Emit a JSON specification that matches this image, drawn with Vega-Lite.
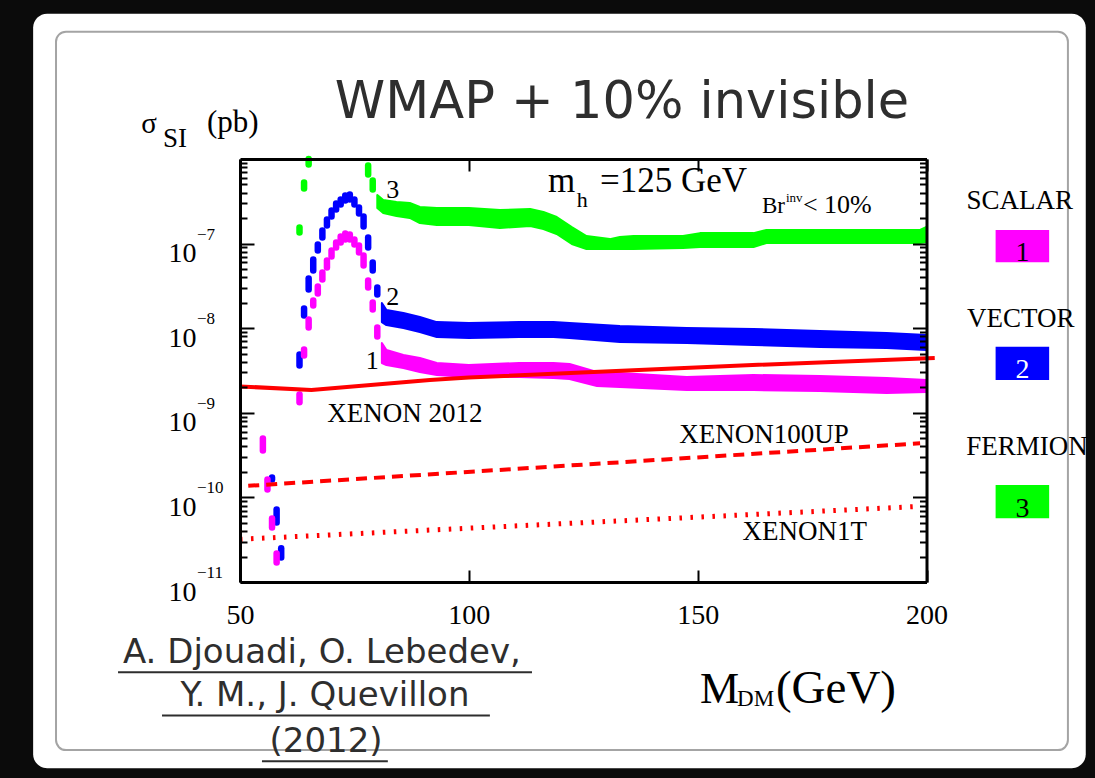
{
  "$schema": "https://vega.github.io/schema/vega-lite/v6.json",
  "width": 686.5,
  "height": 423,
  "autosize": {"type": "none"},
  "padding": {"left": 240, "top": 159, "right": 168.5, "bottom": 196},
  "background": "#0b0b0b",
  "config": {"view": {"stroke": null}, "text": {"font": "Liberation Serif", "color": "black"}},
  "datasets": {
    "dashes": [
      {"model": "fermion", "m": 63, "hi": 1.55e-7, "lo": 1.35e-7},
      {"model": "fermion", "m": 64, "hi": 5.28e-7, "lo": 4.48e-7},
      {"model": "fermion", "m": 65, "hi": 1e-6, "lo": 8.6e-7},
      {"model": "fermion", "m": 78, "hi": 8.38e-7, "lo": 6.55e-7},
      {"model": "fermion", "m": 79, "hi": 5.57e-7, "lo": 4.35e-7},
      {"model": "vector", "m": 57, "hi": 1.72e-10, "lo": 1.63e-10},
      {"model": "vector", "m": 58, "hi": 7.21e-11, "lo": 5.05e-11},
      {"model": "vector", "m": 59, "hi": 2.5e-11, "lo": 1.95e-11},
      {"model": "vector", "m": 63, "hi": 4.9e-9, "lo": 3.63e-9},
      {"model": "vector", "m": 64, "hi": 1.71e-8, "lo": 1.41e-8},
      {"model": "vector", "m": 65, "hi": 3.87e-8, "lo": 2.87e-8},
      {"model": "vector", "m": 66, "hi": 6.5e-8, "lo": 4.8e-8},
      {"model": "vector", "m": 67, "hi": 9.77e-8, "lo": 8.28e-8},
      {"model": "vector", "m": 68, "hi": 1.43e-7, "lo": 1.18e-7},
      {"model": "vector", "m": 69, "hi": 1.93e-7, "lo": 1.64e-7},
      {"model": "vector", "m": 70, "hi": 2.47e-7, "lo": 2.09e-7},
      {"model": "vector", "m": 71, "hi": 2.98e-7, "lo": 2.53e-7},
      {"model": "vector", "m": 72, "hi": 3.33e-7, "lo": 2.9e-7},
      {"model": "vector", "m": 73, "hi": 3.7e-7, "lo": 3.23e-7},
      {"model": "vector", "m": 74, "hi": 3.8e-7, "lo": 3.32e-7},
      {"model": "vector", "m": 75, "hi": 3.33e-7, "lo": 2.9e-7},
      {"model": "vector", "m": 76, "hi": 2.67e-7, "lo": 2.27e-7},
      {"model": "vector", "m": 77, "hi": 2.09e-7, "lo": 1.59e-7},
      {"model": "vector", "m": 78, "hi": 1.18e-7, "lo": 8.99e-8},
      {"model": "vector", "m": 79, "hi": 5.98e-8, "lo": 4.8e-8},
      {"model": "vector", "m": 80, "hi": 3.03e-8, "lo": 2.5e-8},
      {"model": "scalar", "m": 55, "hi": 4.97e-10, "lo": 3.58e-10},
      {"model": "scalar", "m": 56, "hi": 1.63e-10, "lo": 1.24e-10},
      {"model": "scalar", "m": 57, "hi": 5.64e-11, "lo": 4.41e-11},
      {"model": "scalar", "m": 58, "hi": 2.17e-11, "lo": 1.7e-11},
      {"model": "scalar", "m": 63, "hi": 1.64e-9, "lo": 1.33e-9},
      {"model": "scalar", "m": 64, "hi": 5.61e-9, "lo": 4.76e-9},
      {"model": "scalar", "m": 65, "hi": 1.27e-8, "lo": 1.02e-8},
      {"model": "scalar", "m": 66, "hi": 2.13e-8, "lo": 1.85e-8},
      {"model": "scalar", "m": 67, "hi": 3.11e-8, "lo": 2.57e-8},
      {"model": "scalar", "m": 68, "hi": 4.56e-8, "lo": 3.77e-8},
      {"model": "scalar", "m": 69, "hi": 6.32e-8, "lo": 5.22e-8},
      {"model": "scalar", "m": 70, "hi": 8.29e-8, "lo": 7.04e-8},
      {"model": "scalar", "m": 71, "hi": 1.03e-7, "lo": 8.99e-8},
      {"model": "scalar", "m": 72, "hi": 1.21e-7, "lo": 1.03e-7},
      {"model": "scalar", "m": 73, "hi": 1.32e-7, "lo": 1.12e-7},
      {"model": "scalar", "m": 74, "hi": 1.28e-7, "lo": 1.12e-7},
      {"model": "scalar", "m": 75, "hi": 1.12e-7, "lo": 9.76e-8},
      {"model": "scalar", "m": 76, "hi": 9.5e-8, "lo": 7.84e-8},
      {"model": "scalar", "m": 77, "hi": 7.23e-8, "lo": 5.51e-8},
      {"model": "scalar", "m": 78, "hi": 3.66e-8, "lo": 3.03e-8},
      {"model": "scalar", "m": 79, "hi": 2.01e-8, "lo": 1.66e-8},
      {"model": "scalar", "m": 80, "hi": 1.02e-8, "lo": 7.97e-9}
    ],
    "bands": [
      {"model": "fermion", "m": 80, "hi": 3.75e-7, "lo": 2.64e-7},
      {"model": "fermion", "m": 81.3, "hi": 3.27e-7, "lo": 2.3e-7},
      {"model": "fermion", "m": 84.2, "hi": 3.1e-7, "lo": 2.12e-7},
      {"model": "fermion", "m": 87.1, "hi": 3.02e-7, "lo": 2.01e-7},
      {"model": "fermion", "m": 89.3, "hi": 2.71e-7, "lo": 1.75e-7},
      {"model": "fermion", "m": 93, "hi": 2.64e-7, "lo": 1.66e-7},
      {"model": "fermion", "m": 100, "hi": 2.64e-7, "lo": 1.66e-7},
      {"model": "fermion", "m": 106.8, "hi": 2.49e-7, "lo": 1.53e-7},
      {"model": "fermion", "m": 113.4, "hi": 2.56e-7, "lo": 1.61e-7},
      {"model": "fermion", "m": 116.3, "hi": 2.36e-7, "lo": 1.49e-7},
      {"model": "fermion", "m": 119.2, "hi": 2.06e-7, "lo": 1.3e-7},
      {"model": "fermion", "m": 122.5, "hi": 1.57e-7, "lo": 9.89e-8},
      {"model": "fermion", "m": 125.7, "hi": 1.23e-7, "lo": 8.63e-8},
      {"model": "fermion", "m": 130.8, "hi": 1.13e-7, "lo": 8.63e-8},
      {"model": "fermion", "m": 133, "hi": 1.197e-7, "lo": 8.63e-8},
      {"model": "fermion", "m": 136, "hi": 1.23e-7, "lo": 8.63e-8},
      {"model": "fermion", "m": 146.8, "hi": 1.23e-7, "lo": 8.87e-8},
      {"model": "fermion", "m": 150.5, "hi": 1.33e-7, "lo": 9.12e-8},
      {"model": "fermion", "m": 162.2, "hi": 1.33e-7, "lo": 9.12e-8},
      {"model": "fermion", "m": 165, "hi": 1.45e-7, "lo": 1.016e-7},
      {"model": "fermion", "m": 179.6, "hi": 1.45e-7, "lo": 1.016e-7},
      {"model": "fermion", "m": 198.6, "hi": 1.45e-7, "lo": 1.016e-7},
      {"model": "fermion", "m": 200, "hi": 1.57e-7, "lo": 1.045e-7},
      {"model": "vector", "m": 81, "hi": 1.99e-8, "lo": 1.18e-8},
      {"model": "vector", "m": 82, "hi": 1.64e-8, "lo": 1.09e-8},
      {"model": "vector", "m": 85.7, "hi": 1.51e-8, "lo": 1.005e-8},
      {"model": "vector", "m": 89.3, "hi": 1.355e-8, "lo": 9.02e-9},
      {"model": "vector", "m": 93, "hi": 1.18e-8, "lo": 7.87e-9},
      {"model": "vector", "m": 100, "hi": 1.15e-8, "lo": 7.66e-9},
      {"model": "vector", "m": 111, "hi": 1.18e-8, "lo": 7.87e-9},
      {"model": "vector", "m": 118.5, "hi": 1.18e-8, "lo": 7.87e-9},
      {"model": "vector", "m": 122, "hi": 1.15e-8, "lo": 7.66e-9},
      {"model": "vector", "m": 133, "hi": 1.06e-8, "lo": 6.87e-9},
      {"model": "vector", "m": 147.6, "hi": 1.005e-8, "lo": 6.68e-9},
      {"model": "vector", "m": 162.2, "hi": 9.79e-9, "lo": 6.32e-9},
      {"model": "vector", "m": 176.7, "hi": 9.27e-9, "lo": 6.0e-9},
      {"model": "vector", "m": 191.3, "hi": 8.77e-9, "lo": 5.83e-9},
      {"model": "vector", "m": 200, "hi": 8.32e-9, "lo": 5.52e-9},
      {"model": "scalar", "m": 81, "hi": 6.68e-9, "lo": 3.88e-9},
      {"model": "scalar", "m": 82, "hi": 5.52e-9, "lo": 3.67e-9},
      {"model": "scalar", "m": 85.7, "hi": 4.82e-9, "lo": 3.39e-9},
      {"model": "scalar", "m": 89.3, "hi": 4.45e-9, "lo": 3.03e-9},
      {"model": "scalar", "m": 93, "hi": 3.88e-9, "lo": 2.8e-9},
      {"model": "scalar", "m": 100, "hi": 3.67e-9, "lo": 2.65e-9},
      {"model": "scalar", "m": 111, "hi": 3.88e-9, "lo": 2.65e-9},
      {"model": "scalar", "m": 118.5, "hi": 3.88e-9, "lo": 2.58e-9},
      {"model": "scalar", "m": 122, "hi": 3.78e-9, "lo": 2.51e-9},
      {"model": "scalar", "m": 128, "hi": 3.03e-9, "lo": 2.07e-9},
      {"model": "scalar", "m": 133, "hi": 2.95e-9, "lo": 2.02e-9},
      {"model": "scalar", "m": 147.6, "hi": 2.65e-9, "lo": 1.86e-9},
      {"model": "scalar", "m": 162.2, "hi": 2.8e-9, "lo": 1.86e-9},
      {"model": "scalar", "m": 176.7, "hi": 2.72e-9, "lo": 1.81e-9},
      {"model": "scalar", "m": 191.3, "hi": 2.58e-9, "lo": 1.71e-9},
      {"model": "scalar", "m": 200, "hi": 2.44e-9, "lo": 1.76e-9}
    ],
    "limits": [
      {"experiment": "XENON 2012", "m": 50, "sigma": 2.05e-9},
      {"experiment": "XENON 2012", "m": 65.6, "sigma": 1.86e-9},
      {"experiment": "XENON 2012", "m": 91.5, "sigma": 2.44e-9},
      {"experiment": "XENON 2012", "m": 100, "sigma": 2.61e-9},
      {"experiment": "XENON 2012", "m": 162, "sigma": 3.67e-9},
      {"experiment": "XENON 2012", "m": 201.8, "sigma": 4.45e-9},
      {"experiment": "XENON100UP", "m": 51.8, "sigma": 1.37e-10},
      {"experiment": "XENON100UP", "m": 198.6, "sigma": 4.36e-10},
      {"experiment": "XENON1T", "m": 50, "sigma": 3.2e-11},
      {"experiment": "XENON1T", "m": 197.1, "sigma": 7.76e-11}
    ],
    "exponents": [
      {"v": 1e-11, "e": "−11"},
      {"v": 1e-10, "e": "−10"},
      {"v": 1e-9, "e": "−9"},
      {"v": 1e-8, "e": "−8"},
      {"v": 1e-7, "e": "−7"}
    ],
    "one": [{}]
  },
  "layer": [
    {
      "data": {"name": "one"},
      "mark": {"type": "rect", "color": "white", "cornerRadius": 14},
      "encoding": {
        "x": {"datum": 4.8, "scale": {"domain": [50, 200], "nice": false, "zero": false}, "axis": null},
        "x2": {"datum": 234.8},
        "y": {"datum": 5.2e-5, "scale": {"type": "log", "domain": [1e-11, 1e-6], "nice": false}, "axis": null},
        "y2": {"datum": 6.3e-14}
      }
    },
    {
      "data": {"name": "one"},
      "mark": {"type": "rect", "filled": false, "stroke": "#a4a4a4", "strokeWidth": 2, "cornerRadius": 10},
      "encoding": {
        "x": {"datum": 9.8, "scale": {"domain": [50, 200], "nice": false, "zero": false}, "axis": null},
        "x2": {"datum": 230.9},
        "y": {"datum": 3.2e-5, "scale": {"type": "log", "domain": [1e-11, 1e-6], "nice": false}, "axis": null},
        "y2": {"datum": 1.03e-13}
      }
    },
    {
      "data": {"name": "bands"},
      "mark": {"type": "area", "strokeWidth": 2, "strokeJoin": "round"},
      "encoding": {
        "x": {"field": "m", "type": "quantitative", "scale": {"domain": [50, 200], "nice": false, "zero": false}, "axis": null},
        "y": {"field": "hi", "type": "quantitative", "stack": null, "scale": {"type": "log", "domain": [1e-11, 1e-6], "nice": false}, "axis": null},
        "y2": {"field": "lo"},
        "color": {"field": "model", "type": "nominal", "scale": {"domain": ["scalar", "vector", "fermion"], "range": ["#ff00ff", "#0000ff", "#00ff00"]}, "legend": null},
        "stroke": {"field": "model", "type": "nominal", "scale": {"domain": ["scalar", "vector", "fermion"], "range": ["#ff00ff", "#0000ff", "#00ff00"]}, "legend": null}
      }
    },
    {
      "data": {"name": "dashes"},
      "mark": {"type": "rule", "strokeWidth": 6.5, "strokeCap": "round"},
      "encoding": {
        "x": {"field": "m", "type": "quantitative", "scale": {"domain": [50, 200], "nice": false, "zero": false}, "axis": null},
        "y": {"field": "hi", "type": "quantitative", "scale": {"type": "log", "domain": [1e-11, 1e-6], "nice": false}, "axis": null},
        "y2": {"field": "lo"},
        "color": {"field": "model", "type": "nominal", "scale": {"domain": ["scalar", "vector", "fermion"], "range": ["#ff00ff", "#0000ff", "#00ff00"]}, "legend": null}
      }
    },
    {
      "data": {"name": "limits"},
      "transform": [{"filter": "datum.experiment === 'XENON 2012'"}],
      "mark": {"type": "line", "color": "#ff0000", "strokeWidth": 4},
      "encoding": {
        "x": {"field": "m", "type": "quantitative", "scale": {"domain": [50, 200], "nice": false, "zero": false},
          "axis": {"orient": "bottom", "values": [50, 100, 150, 200], "title": null, "grid": false, "zindex": 2,
            "domainColor": "black", "domainWidth": 3, "tickColor": "black", "tickWidth": 2, "tickSize": -12,
            "labelFont": "Liberation Serif", "labelFontSize": 28, "labelColor": "black", "labelPadding": 31,
            "labelFlush": false, "labelOverlap": false}},
        "y": {"field": "sigma", "type": "quantitative", "scale": {"type": "log", "domain": [1e-11, 1e-6], "nice": false},
          "axis": {"orient": "left", "title": null, "grid": false, "zindex": 2,
            "values": [1e-11, 2e-11, 3e-11, 4e-11, 5e-11, 6e-11, 7e-11, 8e-11, 9e-11,
                       1e-10, 2e-10, 3e-10, 4e-10, 5e-10, 6e-10, 7e-10, 8e-10, 9e-10,
                       1e-9, 2e-9, 3e-9, 4e-9, 5e-9, 6e-9, 7e-9, 8e-9, 9e-9,
                       1e-8, 2e-8, 3e-8, 4e-8, 5e-8, 6e-8, 7e-8, 8e-8, 9e-8,
                       1e-7, 2e-7, 3e-7, 4e-7, 5e-7, 6e-7, 7e-7, 8e-7, 9e-7],
            "labelExpr": "abs(log(datum.value)/LN10 - round(log(datum.value)/LN10)) < 0.01 ? '10' : ''",
            "domainColor": "black", "domainWidth": 3, "tickColor": "black", "tickWidth": 2, "tickSize": -14,
            "tickDash": {"condition": {"test": "abs(log(datum.value)/LN10 - round(log(datum.value)/LN10)) > 0.01", "value": [7, 40]}, "value": [40, 0]},
            "labelFont": "Liberation Serif", "labelFontSize": 28, "labelColor": "black", "labelPadding": 58,
            "labelBaseline": "alphabetic", "labelOffset": 18, "labelOverlap": false, "labelFlush": false}}
      }
    },
    {
      "data": {"name": "limits"},
      "transform": [{"filter": "datum.experiment === 'XENON100UP'"}],
      "mark": {"type": "line", "color": "#ff0000", "strokeWidth": 4, "strokeDash": [11, 7]},
      "encoding": {
        "x": {"field": "m", "type": "quantitative", "scale": {"domain": [50, 200], "nice": false, "zero": false}, "axis": null},
        "y": {"field": "sigma", "type": "quantitative", "scale": {"type": "log", "domain": [1e-11, 1e-6], "nice": false}, "axis": null}
      }
    },
    {
      "data": {"name": "limits"},
      "transform": [{"filter": "datum.experiment === 'XENON1T'"}],
      "mark": {"type": "line", "color": "#ff0000", "strokeWidth": 5, "strokeDash": [2.5, 8.5]},
      "encoding": {
        "x": {"field": "m", "type": "quantitative", "scale": {"domain": [50, 200], "nice": false, "zero": false},
          "axis": {"orient": "top", "values": [50, 100, 150, 200], "title": null, "grid": false, "zindex": 2, "labels": false,
            "domainColor": "black", "domainWidth": 3, "tickColor": "black", "tickWidth": 2, "tickSize": -12}},
        "y": {"field": "sigma", "type": "quantitative", "scale": {"type": "log", "domain": [1e-11, 1e-6], "nice": false},
          "axis": {"orient": "right", "title": null, "grid": false, "zindex": 2, "labels": false,
            "values": [1e-11, 2e-11, 3e-11, 4e-11, 5e-11, 6e-11, 7e-11, 8e-11, 9e-11,
                       1e-10, 2e-10, 3e-10, 4e-10, 5e-10, 6e-10, 7e-10, 8e-10, 9e-10,
                       1e-9, 2e-9, 3e-9, 4e-9, 5e-9, 6e-9, 7e-9, 8e-9, 9e-9,
                       1e-8, 2e-8, 3e-8, 4e-8, 5e-8, 6e-8, 7e-8, 8e-8, 9e-8,
                       1e-7, 2e-7, 3e-7, 4e-7, 5e-7, 6e-7, 7e-7, 8e-7, 9e-7],
            "domainColor": "black", "domainWidth": 3, "tickColor": "black", "tickWidth": 2, "tickSize": -14,
            "tickDash": {"condition": {"test": "abs(log(datum.value)/LN10 - round(log(datum.value)/LN10)) > 0.01", "value": [7, 40]}, "value": [40, 0]}}}
      }
    },
    {
      "data": {"name": "exponents"},
      "mark": {"type": "text", "fontSize": 17, "align": "left", "baseline": "alphabetic", "dy": -4},
      "encoding": {
        "x": {"datum": 40.6, "scale": {"domain": [50, 200], "nice": false, "zero": false}, "axis": null},
        "y": {"field": "v", "type": "quantitative", "scale": {"type": "log", "domain": [1e-11, 1e-6], "nice": false}, "axis": null},
        "text": {"field": "e"}
      }
    },
    {
      "data": {"name": "one"},
      "mark": {"type": "text", "text": "σ", "fontSize": 29, "align": "left", "baseline": "alphabetic"},
      "encoding": {
        "x": {"datum": 28.4, "scale": {"domain": [50, 200], "nice": false, "zero": false}, "axis": null},
        "y": {"datum": 2.03e-6, "scale": {"type": "log", "domain": [1e-11, 1e-6], "nice": false}, "axis": null}
      }
    },
    {
      "data": {"name": "one"},
      "mark": {"type": "text", "text": "SI", "fontSize": 27, "align": "left", "baseline": "alphabetic"},
      "encoding": {
        "x": {"datum": 33.18, "scale": {"domain": [50, 200], "nice": false, "zero": false}, "axis": null},
        "y": {"datum": 1.4e-6, "scale": {"type": "log", "domain": [1e-11, 1e-6], "nice": false}, "axis": null}
      }
    },
    {
      "data": {"name": "one"},
      "mark": {"type": "text", "text": "(pb)", "fontSize": 31, "align": "left", "baseline": "alphabetic"},
      "encoding": {
        "x": {"datum": 42.79, "scale": {"domain": [50, 200], "nice": false, "zero": false}, "axis": null},
        "y": {"datum": 2.1e-6, "scale": {"type": "log", "domain": [1e-11, 1e-6], "nice": false}, "axis": null}
      }
    },
    {
      "data": {"name": "one"},
      "mark": {"type": "text", "text": "M", "fontSize": 44, "align": "left", "baseline": "alphabetic"},
      "encoding": {
        "x": {"datum": 150.5, "scale": {"domain": [50, 200], "nice": false, "zero": false}, "axis": null},
        "y": {"datum": 3.72e-13, "scale": {"type": "log", "domain": [1e-11, 1e-6], "nice": false}, "axis": null}
      }
    },
    {
      "data": {"name": "one"},
      "mark": {"type": "text", "text": "DM", "fontSize": 23, "align": "left", "baseline": "alphabetic"},
      "encoding": {
        "x": {"datum": 158.6, "scale": {"domain": [50, 200], "nice": false, "zero": false}, "axis": null},
        "y": {"datum": 3.42e-13, "scale": {"type": "log", "domain": [1e-11, 1e-6], "nice": false}, "axis": null}
      }
    },
    {
      "data": {"name": "one"},
      "mark": {"type": "text", "text": "(GeV)", "fontSize": 47, "align": "left", "baseline": "alphabetic"},
      "encoding": {
        "x": {"datum": 167.1, "scale": {"domain": [50, 200], "nice": false, "zero": false}, "axis": null},
        "y": {"datum": 3.72e-13, "scale": {"type": "log", "domain": [1e-11, 1e-6], "nice": false}, "axis": null}
      }
    },
    {
      "data": {"name": "one"},
      "mark": {"type": "text", "text": "3", "fontSize": 26, "align": "center", "baseline": "alphabetic"},
      "encoding": {
        "x": {"datum": 83.4, "scale": {"domain": [50, 200], "nice": false, "zero": false}, "axis": null},
        "y": {"datum": 3.46e-7, "scale": {"type": "log", "domain": [1e-11, 1e-6], "nice": false}, "axis": null}
      }
    },
    {
      "data": {"name": "one"},
      "mark": {"type": "text", "text": "2", "fontSize": 26, "align": "center", "baseline": "alphabetic"},
      "encoding": {
        "x": {"datum": 83.4, "scale": {"domain": [50, 200], "nice": false, "zero": false}, "axis": null},
        "y": {"datum": 1.88e-8, "scale": {"type": "log", "domain": [1e-11, 1e-6], "nice": false}, "axis": null}
      }
    },
    {
      "data": {"name": "one"},
      "mark": {"type": "text", "text": "1", "fontSize": 26, "align": "center", "baseline": "alphabetic"},
      "encoding": {
        "x": {"datum": 78.9, "scale": {"domain": [50, 200], "nice": false, "zero": false}, "axis": null},
        "y": {"datum": 3.3e-9, "scale": {"type": "log", "domain": [1e-11, 1e-6], "nice": false}, "axis": null}
      }
    },
    {
      "data": {"name": "one"},
      "mark": {"type": "text", "text": "m", "fontSize": 35, "align": "left", "baseline": "alphabetic"},
      "encoding": {
        "x": {"datum": 117.3, "scale": {"domain": [50, 200], "nice": false, "zero": false}, "axis": null},
        "y": {"datum": 4.11e-7, "scale": {"type": "log", "domain": [1e-11, 1e-6], "nice": false}, "axis": null}
      }
    },
    {
      "data": {"name": "one"},
      "mark": {"type": "text", "text": "h", "fontSize": 22, "align": "left", "baseline": "alphabetic"},
      "encoding": {
        "x": {"datum": 123.6, "scale": {"domain": [50, 200], "nice": false, "zero": false}, "axis": null},
        "y": {"datum": 2.73e-7, "scale": {"type": "log", "domain": [1e-11, 1e-6], "nice": false}, "axis": null}
      }
    },
    {
      "data": {"name": "one"},
      "mark": {"type": "text", "text": "=125 GeV", "fontSize": 35, "align": "left", "baseline": "alphabetic"},
      "encoding": {
        "x": {"datum": 128.65, "scale": {"domain": [50, 200], "nice": false, "zero": false}, "axis": null},
        "y": {"datum": 4.11e-7, "scale": {"type": "log", "domain": [1e-11, 1e-6], "nice": false}, "axis": null}
      }
    },
    {
      "data": {"name": "one"},
      "mark": {"type": "text", "text": "Br", "fontSize": 23, "align": "left", "baseline": "alphabetic"},
      "encoding": {
        "x": {"datum": 164.05, "scale": {"domain": [50, 200], "nice": false, "zero": false}, "axis": null},
        "y": {"datum": 2.28e-7, "scale": {"type": "log", "domain": [1e-11, 1e-6], "nice": false}, "axis": null}
      }
    },
    {
      "data": {"name": "one"},
      "mark": {"type": "text", "text": "inv", "fontSize": 13, "align": "left", "baseline": "alphabetic"},
      "encoding": {
        "x": {"datum": 169.3, "scale": {"domain": [50, 200], "nice": false, "zero": false}, "axis": null},
        "y": {"datum": 3.13e-7, "scale": {"type": "log", "domain": [1e-11, 1e-6], "nice": false}, "axis": null}
      }
    },
    {
      "data": {"name": "one"},
      "mark": {"type": "text", "text": "< 10%", "fontSize": 26, "align": "left", "baseline": "alphabetic"},
      "encoding": {
        "x": {"datum": 173.0, "scale": {"domain": [50, 200], "nice": false, "zero": false}, "axis": null},
        "y": {"datum": 2.28e-7, "scale": {"type": "log", "domain": [1e-11, 1e-6], "nice": false}, "axis": null}
      }
    },
    {
      "data": {"name": "one"},
      "mark": {"type": "text", "text": "XENON 2012", "fontSize": 27, "align": "center", "baseline": "alphabetic"},
      "encoding": {
        "x": {"datum": 86.05, "scale": {"domain": [50, 200], "nice": false, "zero": false}, "axis": null},
        "y": {"datum": 7.85e-10, "scale": {"type": "log", "domain": [1e-11, 1e-6], "nice": false}, "axis": null}
      }
    },
    {
      "data": {"name": "one"},
      "mark": {"type": "text", "text": "XENON100UP", "fontSize": 27, "align": "center", "baseline": "alphabetic"},
      "encoding": {
        "x": {"datum": 164.5, "scale": {"domain": [50, 200], "nice": false, "zero": false}, "axis": null},
        "y": {"datum": 4.4e-10, "scale": {"type": "log", "domain": [1e-11, 1e-6], "nice": false}, "axis": null}
      }
    },
    {
      "data": {"name": "one"},
      "mark": {"type": "text", "text": "XENON1T", "fontSize": 27, "align": "center", "baseline": "alphabetic"},
      "encoding": {
        "x": {"datum": 173.4, "scale": {"domain": [50, 200], "nice": false, "zero": false}, "axis": null},
        "y": {"datum": 3.13e-11, "scale": {"type": "log", "domain": [1e-11, 1e-6], "nice": false}, "axis": null}
      }
    },
    {
      "data": {"name": "one"},
      "mark": {"type": "text", "text": "WMAP + 10% invisible", "font": "DejaVu Sans", "fontSize": 51, "color": "#2e2e2e", "align": "center", "baseline": "alphabetic"},
      "encoding": {
        "x": {"datum": 133.46, "scale": {"domain": [50, 200], "nice": false, "zero": false}, "axis": null},
        "y": {"datum": 3.06e-6, "scale": {"type": "log", "domain": [1e-11, 1e-6], "nice": false}, "axis": null}
      }
    },
    {
      "data": {"name": "one"},
      "mark": {"type": "text", "text": "A. Djouadi, O. Lebedev,", "font": "DejaVu Sans", "fontSize": 34, "color": "#2e2e2e", "align": "center", "baseline": "alphabetic"},
      "encoding": {
        "x": {"datum": 67.9, "scale": {"domain": [50, 200], "nice": false, "zero": false}, "axis": null},
        "y": {"datum": 1.1e-12, "scale": {"type": "log", "domain": [1e-11, 1e-6], "nice": false}, "axis": null}
      }
    },
    {
      "data": {"name": "one"},
      "mark": {"type": "text", "text": "Y. M., J. Quevillon", "font": "DejaVu Sans", "fontSize": 34, "color": "#2e2e2e", "align": "center", "baseline": "alphabetic"},
      "encoding": {
        "x": {"datum": 68.57, "scale": {"domain": [50, 200], "nice": false, "zero": false}, "axis": null},
        "y": {"datum": 3.42e-13, "scale": {"type": "log", "domain": [1e-11, 1e-6], "nice": false}, "axis": null}
      }
    },
    {
      "data": {"name": "one"},
      "mark": {"type": "text", "text": "(2012)", "font": "DejaVu Sans", "fontSize": 34, "color": "#2e2e2e", "align": "center", "baseline": "alphabetic"},
      "encoding": {
        "x": {"datum": 68.8, "scale": {"domain": [50, 200], "nice": false, "zero": false}, "axis": null},
        "y": {"datum": 9.79e-14, "scale": {"type": "log", "domain": [1e-11, 1e-6], "nice": false}, "axis": null}
      }
    },
    {
      "data": {"name": "one"},
      "mark": {"type": "rule", "color": "#2e2e2e", "strokeWidth": 2},
      "encoding": {
        "x": {"datum": 23.35, "scale": {"domain": [50, 200], "nice": false, "zero": false}, "axis": null},
        "x2": {"datum": 113.8},
        "y": {"datum": 8.6e-13, "scale": {"type": "log", "domain": [1e-11, 1e-6], "nice": false}, "axis": null}
      }
    },
    {
      "data": {"name": "one"},
      "mark": {"type": "rule", "color": "#2e2e2e", "strokeWidth": 2},
      "encoding": {
        "x": {"datum": 32.96, "scale": {"domain": [50, 200], "nice": false, "zero": false}, "axis": null},
        "x2": {"datum": 104.6},
        "y": {"datum": 2.65e-13, "scale": {"type": "log", "domain": [1e-11, 1e-6], "nice": false}, "axis": null}
      }
    },
    {
      "data": {"name": "one"},
      "mark": {"type": "rule", "color": "#2e2e2e", "strokeWidth": 2},
      "encoding": {
        "x": {"datum": 54.8, "scale": {"domain": [50, 200], "nice": false, "zero": false}, "axis": null},
        "x2": {"datum": 82.3},
        "y": {"datum": 7.6e-14, "scale": {"type": "log", "domain": [1e-11, 1e-6], "nice": false}, "axis": null}
      }
    },
    {
      "data": {"name": "one"},
      "mark": {"type": "text", "text": "SCALAR", "fontSize": 27, "align": "center", "baseline": "alphabetic"},
      "encoding": {
        "x": {"datum": 220.4, "scale": {"domain": [50, 200], "nice": false, "zero": false}, "axis": null},
        "y": {"datum": 2.54e-7, "scale": {"type": "log", "domain": [1e-11, 1e-6], "nice": false}, "axis": null}
      }
    },
    {
      "data": {"name": "one"},
      "mark": {"type": "rect", "color": "#ff00ff"},
      "encoding": {
        "x": {"datum": 215.1, "scale": {"domain": [50, 200], "nice": false, "zero": false}, "axis": null},
        "x2": {"datum": 226.8},
        "y": {"datum": 1.45e-7, "scale": {"type": "log", "domain": [1e-11, 1e-6], "nice": false}, "axis": null},
        "y2": {"datum": 6.01e-8}
      }
    },
    {
      "data": {"name": "one"},
      "mark": {"type": "text", "text": "1", "fontSize": 28, "align": "center", "baseline": "alphabetic"},
      "encoding": {
        "x": {"datum": 220.96, "scale": {"domain": [50, 200], "nice": false, "zero": false}, "axis": null},
        "y": {"datum": 6.22e-8, "scale": {"type": "log", "domain": [1e-11, 1e-6], "nice": false}, "axis": null}
      }
    },
    {
      "data": {"name": "one"},
      "mark": {"type": "text", "text": "VECTOR", "fontSize": 27, "align": "center", "baseline": "alphabetic"},
      "encoding": {
        "x": {"datum": 220.6, "scale": {"domain": [50, 200], "nice": false, "zero": false}, "axis": null},
        "y": {"datum": 1.04e-8, "scale": {"type": "log", "domain": [1e-11, 1e-6], "nice": false}, "axis": null}
      }
    },
    {
      "data": {"name": "one"},
      "mark": {"type": "rect", "color": "#0000ff"},
      "encoding": {
        "x": {"datum": 215.1, "scale": {"domain": [50, 200], "nice": false, "zero": false}, "axis": null},
        "x2": {"datum": 226.8},
        "y": {"datum": 6.04e-9, "scale": {"type": "log", "domain": [1e-11, 1e-6], "nice": false}, "axis": null},
        "y2": {"datum": 2.44e-9}
      }
    },
    {
      "data": {"name": "one"},
      "mark": {"type": "text", "text": "2", "fontSize": 28, "color": "white", "align": "center", "baseline": "alphabetic"},
      "encoding": {
        "x": {"datum": 220.96, "scale": {"domain": [50, 200], "nice": false, "zero": false}, "axis": null},
        "y": {"datum": 2.58e-9, "scale": {"type": "log", "domain": [1e-11, 1e-6], "nice": false}, "axis": null}
      }
    },
    {
      "data": {"name": "one"},
      "mark": {"type": "text", "text": "FERMION", "fontSize": 27, "align": "center", "baseline": "alphabetic"},
      "encoding": {
        "x": {"datum": 221.95, "scale": {"domain": [50, 200], "nice": false, "zero": false}, "axis": null},
        "y": {"datum": 3.17e-10, "scale": {"type": "log", "domain": [1e-11, 1e-6], "nice": false}, "axis": null}
      }
    },
    {
      "data": {"name": "one"},
      "mark": {"type": "rect", "color": "#00ff00"},
      "encoding": {
        "x": {"datum": 215.1, "scale": {"domain": [50, 200], "nice": false, "zero": false}, "axis": null},
        "x2": {"datum": 226.8},
        "y": {"datum": 1.4e-10, "scale": {"type": "log", "domain": [1e-11, 1e-6], "nice": false}, "axis": null},
        "y2": {"datum": 5.66e-11}
      }
    },
    {
      "data": {"name": "one"},
      "mark": {"type": "text", "text": "3", "fontSize": 28, "align": "center", "baseline": "alphabetic"},
      "encoding": {
        "x": {"datum": 220.96, "scale": {"domain": [50, 200], "nice": false, "zero": false}, "axis": null},
        "y": {"datum": 5.86e-11, "scale": {"type": "log", "domain": [1e-11, 1e-6], "nice": false}, "axis": null}
      }
    }
  ],
  "resolve": {"axis": {"x": "independent", "y": "independent"}}
}
